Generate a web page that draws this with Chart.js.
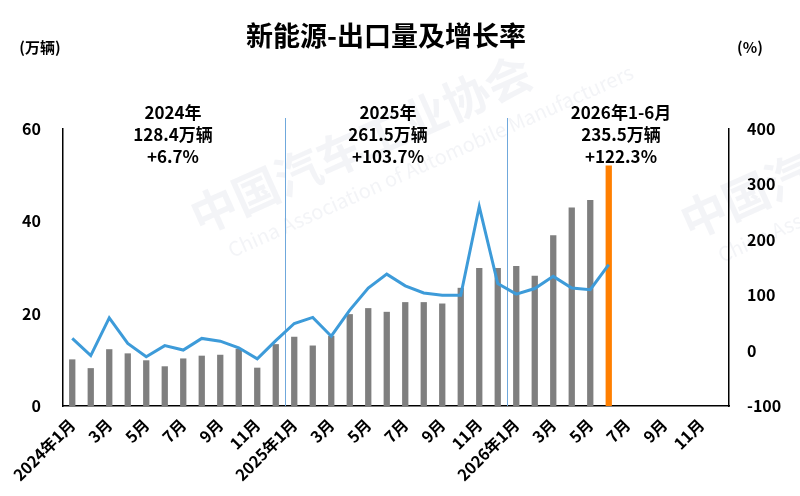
<!DOCTYPE html>
<html lang="zh">
<head>
<meta charset="UTF-8">
<title>新能源-出口量及增长率</title>
<script src="https://cdn.jsdelivr.net/npm/chart.js"></script>
<style>
  body { margin: 0; background: #fff; }
  #wrap { width: 800px; height: 496px; }
</style>
</head>
<body>
<div id="wrap"><canvas id="chart" width="800" height="496"></canvas></div>
<script>
// 月份（2024年1月 - 2026年12月）
const months = [];
for (let y = 2024; y <= 2026; y++) {
  for (let m = 1; m <= 12; m++) months.push(y + '年' + m + '月');
}
const xTickLabels = [
  '2024年1月', '', '3月', '', '5月', '', '7月', '', '9月', '', '11月', '',
  '2025年1月', '', '3月', '', '5月', '', '7月', '', '9月', '', '11月', '',
  '2026年1月', '', '3月', '', '5月', '', '7月', '', '9月', '', '11月', ''
];
// 出口量（万辆）
const exportVolume = [
  10.1, 8.2, 12.3, 11.4, 9.9, 8.6, 10.3, 10.9, 11.1, 12.4, 8.3, 13.4,
  15.0, 13.1, 15.2, 19.9, 21.2, 20.4, 22.5, 22.5, 22.2, 25.6, 29.9, 29.9,
  30.3, 28.2, 37.0, 43.0, 44.6, 52.1, null, null, null, null, null, null
];
// 同比增长率（%）
const growthRate = [
  22, -9, 59, 13, -11, 9, 1, 22, 17, 5, -15, 18,
  49, 60, 26, 73, 113, 138, 117, 104, 100, 100, 260, 121,
  102, 112, 134, 113, 110, 155, null, null, null, null, null, null
];
const leftTicks = [0, 20, 40, 60];
const rightTicks = [-100, 0, 100, 200, 300, 400];
const yearNotes = [
  { lines: ['2024年', '128.4万辆', '+6.7%'], x: 173 },
  { lines: ['2025年', '261.5万辆', '+103.7%'], x: 388 },
  { lines: ['2026年1-6月', '235.5万辆', '+122.3%'], x: 621 }
];

const latestIndex = 29;
const barColors = exportVolume.map((v, i) => i === latestIndex ? '#FF7F00' : '#7F7F7F');
const FONT = "'Noto Sans CJK SC', 'Noto Sans', sans-serif";

const decorPlugin = {
  id: 'decor',
  beforeDraw(chart) {
    const c = chart.ctx;
    // 水印
    c.save();
    c.fillStyle = 'rgba(190, 196, 210, 0.18)';
    c.translate(200, 235);
    c.rotate(-0.42);
    c.font = 'bold 46px ' + FONT;
    c.fillText('中国汽车工业协会', 0, 0);
    c.font = '20px ' + FONT;
    c.fillText('China Association of Automobile Manufacturers', 20, 34);
    c.restore();
    c.save();
    c.fillStyle = 'rgba(190, 196, 210, 0.18)';
    c.translate(690, 240);
    c.rotate(-0.42);
    c.font = 'bold 46px ' + FONT;
    c.fillText('中国汽车', 0, 0);
    c.font = '20px ' + FONT;
    c.fillText('China Association', 20, 34);
    c.restore();
  },
  beforeDatasetsDraw(chart) {
    const c = chart.ctx, x = chart.scales.x, area = chart.chartArea;
    c.save();
    c.strokeStyle = '#6FA8DC';
    c.lineWidth = 1;
    [11, 23].forEach(i => {
      const px = Math.round((x.getPixelForValue(i) + x.getPixelForValue(i + 1)) / 2) + 0.5;
      c.beginPath();
      c.moveTo(px, area.top - 11);
      c.lineTo(px, area.bottom);
      c.stroke();
    });
    c.restore();
  },
  afterDraw(chart) {
    const c = chart.ctx;
    c.save();
    c.fillStyle = '#000';
    c.textAlign = 'center';
    c.textBaseline = 'middle';
    c.font = 'bold 27px ' + FONT;
    c.fillText('新能源-出口量及增长率', 386, 36);
    c.font = 'bold 15px ' + FONT;
    c.fillText('(万辆)', 40, 47);
    c.fillText('(%)', 750, 47);
    c.font = 'bold 17px ' + FONT;
    yearNotes.forEach(n => {
      n.lines.forEach((t, k) => c.fillText(t, n.x, 113 + k * 22));
    });
    c.restore();
  }
};

new Chart(document.getElementById('chart'), {
  type: 'bar',
  data: {
    labels: months,
    datasets: [
      {
        type: 'line',
        label: '增长率',
        data: growthRate,
        yAxisID: 'y1',
        borderColor: '#3D9BD9',
        borderWidth: 3,
        pointRadius: 0,
        tension: 0,
        order: 0
      },
      {
        type: 'bar',
        label: '出口量',
        data: exportVolume,
        yAxisID: 'y',
        backgroundColor: barColors,
        barPercentage: 0.34,
        categoryPercentage: 1,
        order: 1
      }
    ]
  },
  options: {
    responsive: false,
    animation: false,
    layout: { padding: { top: 129, left: 0, right: 0, bottom: 0 } },
    plugins: { legend: { display: false }, tooltip: { enabled: false } },
    scales: {
      x: {
        grid: { display: false, drawTicks: false },
        border: { color: '#000', width: 1.5 },
        ticks: {
          autoSkip: false,
          maxRotation: 45,
          minRotation: 45,
          padding: 9,
          color: '#000',
          font: { family: FONT, size: 16, weight: 'bold' },
          callback: (v, i) => xTickLabels[i]
        },
        afterFit: s => { s.height = 90; }
      },
      y: {
        position: 'left',
        min: 0,
        max: 60,
        afterBuildTicks: s => { s.ticks = leftTicks.map(v => ({ value: v })); },
        grid: { display: false, drawTicks: false },
        border: { color: '#000', width: 1.5 },
        ticks: { padding: 22, color: '#000', font: { family: FONT, size: 16, weight: 'bold' } },
        afterFit: s => { s.width = 63; }
      },
      y1: {
        position: 'right',
        min: -100,
        max: 400,
        afterBuildTicks: s => { s.ticks = rightTicks.map(v => ({ value: v })); },
        grid: { display: false, drawTicks: false },
        border: { color: '#000', width: 1.5 },
        ticks: { padding: 18, color: '#000', font: { family: FONT, size: 16, weight: 'bold' } },
        afterFit: s => { s.width = 71; }
      }
    }
  },
  plugins: [decorPlugin]
});
</script>
</body>
</html>
